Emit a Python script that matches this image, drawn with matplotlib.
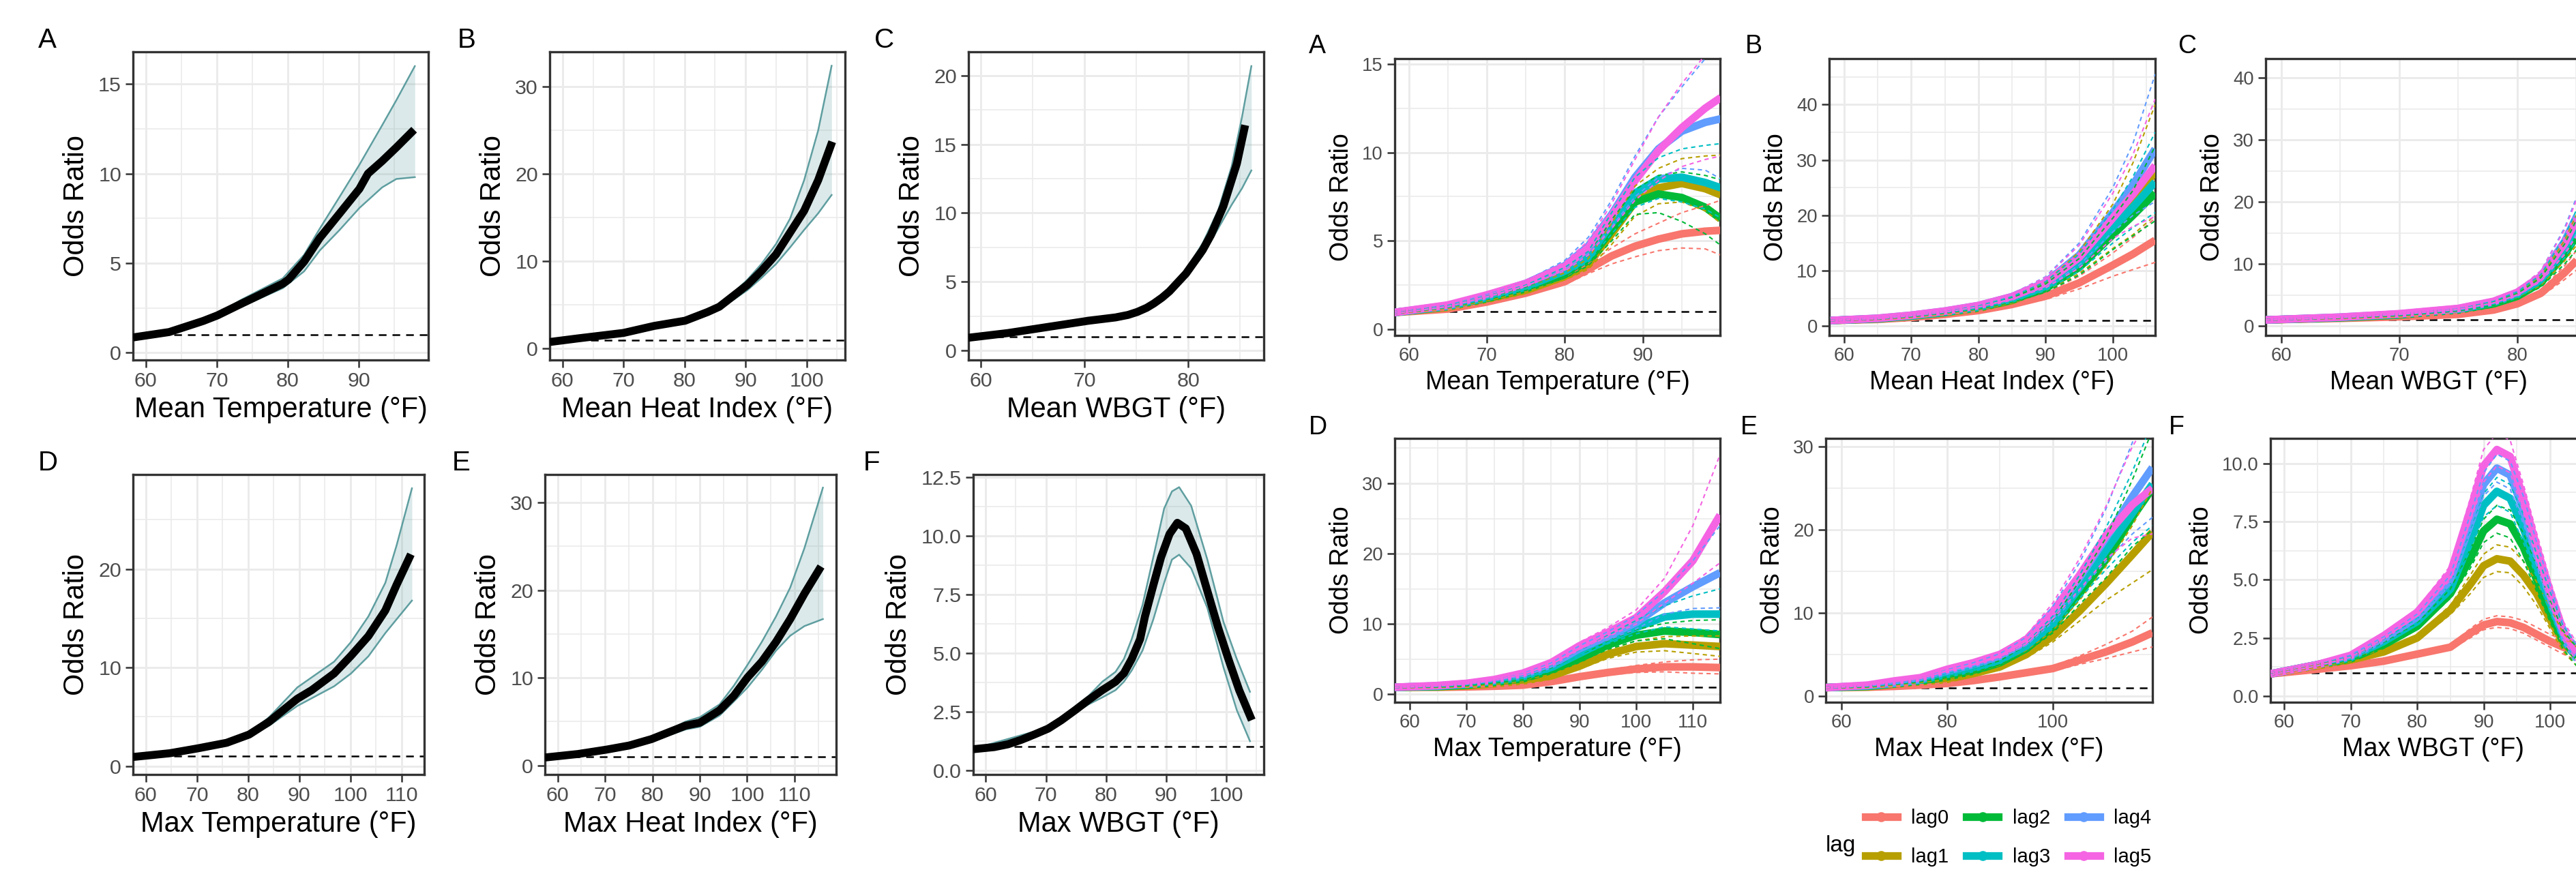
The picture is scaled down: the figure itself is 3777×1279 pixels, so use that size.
import numpy as np
import matplotlib
matplotlib.use("Agg")
import matplotlib.pyplot as plt
from matplotlib.lines import Line2D

plt.rcParams["font.family"] = ["Liberation Sans", "DejaVu Sans"]

W, H, DPI = 3777, 1279, 300
RIBBON = "#5F9EA0"
LAGS = ["lag0", "lag1", "lag2", "lag3", "lag4", "lag5"]
LAG_COLORS = ["#F8766D", "#B79F00", "#00BA38", "#00BFC4", "#619CFF", "#F564E3"]

# ---- left block: pooled odds ratio with 95% CI -------------------------------
la_x = [58.2, 63.3, 68.1, 70.1, 73.3, 75.3, 79.3, 80.1, 82.3, 84.5, 87.3, 90.1, 91.3, 93.3, 95.3, 97.8]
la_or = [0.85, 1.15, 1.77, 2.08, 2.7, 3.08, 3.85, 4.08, 5.08, 6.4, 7.77, 9.15, 10.0, 10.7, 11.46, 12.45]
la_cx = [58.2, 63.3, 68.1, 70.1, 73.3, 79.3, 82.3, 84.5, 87.3, 90.1, 93.3, 95.3, 97.9]
la_lo = [0.8, 1.1, 1.72, 2.0, 2.54, 3.6, 4.54, 5.7, 6.85, 8.08, 9.23, 9.7, 9.8]
la_hi = [0.9, 1.2, 1.82, 2.15, 2.92, 4.15, 5.46, 6.92, 8.7, 10.5, 12.7, 14.1, 16.0]

lb_x = [57.9, 62.5, 70.0, 75.0, 80.1, 83.8, 85.7, 88.0, 90.3, 92.6, 95.0, 97.3, 99.6, 101.9, 104.2]
lb_or = [0.76, 1.17, 1.8, 2.6, 3.2, 4.2, 4.8, 6.05, 7.3, 8.9, 10.8, 13.3, 15.8, 19.3, 23.7]
lb_cx = [57.9, 70.0, 80.1, 85.7, 88.0, 90.3, 92.6, 95.0, 97.3, 99.6, 101.9, 104.1]
lb_lo = [0.72, 1.75, 3.1, 4.6, 5.6, 6.7, 8.1, 9.7, 11.6, 13.6, 15.5, 17.6]
lb_hi = [0.8, 1.85, 3.3, 5.0, 6.4, 7.9, 9.7, 12.0, 14.9, 19.3, 25.0, 32.4]

lc_x = [58.8, 62.6, 65.2, 67.8, 70.4, 73.0, 74.2, 75.1, 76.0, 76.7, 77.5, 78.2, 79.8, 81.4, 82.2, 83.4, 84.7, 85.5]
lc_or = [0.92, 1.26, 1.56, 1.86, 2.16, 2.4, 2.58, 2.8, 3.1, 3.42, 3.85, 4.3, 5.6, 7.3, 8.4, 10.5, 13.6, 16.4]
lc_cx = [58.8, 70.4, 75.1, 76.7, 78.2, 79.8, 81.4, 82.9, 84.2, 85.2, 86.1]
lc_lo = [0.88, 2.1, 2.72, 3.3, 4.15, 5.3, 6.9, 8.88, 10.6, 11.8, 13.1]
lc_hi = [0.96, 2.22, 2.9, 3.55, 4.5, 5.85, 7.8, 10.2, 13.4, 17.0, 20.7]

ld_x = [57.5, 64.7, 70.2, 75.8, 80.2, 84.1, 86.9, 89.6, 92.4, 96.8, 100.1, 103.5, 106.8, 109.0, 111.8]
ld_or = [0.92, 1.3, 1.8, 2.36, 3.2, 4.5, 5.7, 6.83, 7.7, 9.4, 11.2, 13.2, 15.8, 18.4, 21.5]
ld_cx = [57.5, 75.8, 80.2, 84.1, 89.6, 96.8, 100.1, 103.5, 106.8, 109.0, 112.0]
ld_lo = [0.88, 2.3, 3.05, 4.1, 6.1, 8.1, 9.4, 11.15, 13.5, 14.9, 16.8]
ld_hi = [0.96, 2.42, 3.35, 4.96, 7.98, 10.6, 12.6, 15.2, 18.6, 22.4, 28.2]

le_x = [57.3, 64.3, 70.3, 75.1, 79.8, 84.0, 87.0, 90.0, 92.4, 94.2, 97.2, 100.1, 103.1, 106.1, 109.1, 112.1, 115.6]
le_or = [0.9, 1.3, 1.8, 2.27, 3.0, 3.9, 4.54, 4.87, 5.68, 6.3, 7.95, 10.05, 11.84, 14.1, 16.7, 19.6, 22.7]
le_cx = [57.3, 75.1, 82.2, 87.0, 90.0, 94.2, 97.2, 100.1, 103.1, 106.1, 109.1, 112.1, 116.0]
le_lo = [0.86, 2.2, 3.2, 4.1, 4.4, 5.7, 7.3, 8.9, 10.9, 13.1, 14.8, 15.9, 16.7]
le_hi = [0.94, 2.34, 3.7, 5.0, 5.5, 6.97, 9.1, 11.5, 14.1, 17.0, 20.3, 24.8, 31.7]

lf_x = [57.9, 61.4, 63.7, 65.9, 68.2, 70.4, 72.6, 74.9, 77.1, 79.4, 81.6, 83.0, 84.3, 85.7, 86.5,
        87.9, 89.2, 90.6, 91.9, 93.3, 95.1, 96.9, 98.7, 100.4, 102.2, 104.3]
lf_or = [0.9, 0.99, 1.11, 1.3, 1.54, 1.78, 2.14, 2.57, 3.0, 3.42, 3.78, 4.14, 4.75, 5.6, 6.56,
         7.9, 9.1, 10.08, 10.56, 10.32, 9.23, 7.65, 6.08, 4.75, 3.42, 2.14]
lf_cx = [57.9, 70.4, 77.1, 79.4, 81.6, 83.0, 84.3, 86.1, 87.9, 89.7, 91.0, 92.2, 94.2, 96.9, 99.6, 101.8, 104.0]
lf_lo = [0.88, 1.74, 2.81, 3.11, 3.42, 3.78, 4.26, 5.11, 6.44, 8.0, 8.99, 9.2, 8.62, 6.93, 4.38, 2.57, 1.24]
lf_hi = [0.92, 1.82, 3.17, 3.78, 4.2, 4.75, 5.6, 7.05, 9.1, 11.17, 11.9, 12.08, 11.29, 8.99, 6.32, 4.75, 3.35]

# ---- right block: odds ratio by lag (rows = lag0..lag5) ---------------------
ra_x = [58, 65, 70, 75, 80, 83, 86, 89, 92, 95, 98, 100]
ra_or = [[0.95, 1.15, 1.55, 2.05, 2.7, 3.4, 4.15, 4.7, 5.1, 5.4, 5.55, 5.6],
         [0.95, 1.25, 1.7, 2.2, 3.0, 3.7, 5.4, 7.2, 8.0, 8.25, 7.95, 7.6],
         [0.95, 1.3, 1.75, 2.3, 3.1, 3.9, 5.6, 7.2, 7.65, 7.45, 6.9, 6.25],
         [0.95, 1.3, 1.8, 2.4, 3.3, 4.1, 6.0, 7.7, 8.5, 8.6, 8.3, 8.0],
         [0.95, 1.35, 1.9, 2.6, 3.6, 4.7, 6.5, 8.6, 10.2, 11.2, 11.7, 11.9],
         [0.95, 1.38, 1.95, 2.6, 3.55, 4.6, 6.4, 8.4, 10.1, 11.4, 12.5, 13.1]]
ra_lo = [[0.9, 1.1, 1.48, 1.95, 2.55, 3.15, 3.7, 4.1, 4.45, 4.6, 4.55, 4.2],
         [0.9, 1.2, 1.62, 2.1, 2.8, 3.4, 4.8, 6.4, 7.1, 7.2, 6.7, 6.0],
         [0.9, 1.25, 1.68, 2.2, 2.9, 3.6, 5.0, 6.5, 6.6, 6.1, 5.4, 4.75],
         [0.9, 1.25, 1.72, 2.3, 3.1, 3.8, 5.4, 6.9, 7.4, 7.2, 6.8, 6.3],
         [0.9, 1.28, 1.8, 2.45, 3.35, 4.3, 5.8, 7.5, 8.6, 9.1, 9.0, 8.5],
         [0.9, 1.3, 1.85, 2.45, 3.3, 4.2, 5.7, 7.3, 8.4, 9.2, 9.6, 9.8]]
ra_hi = [[1.0, 1.2, 1.62, 2.15, 2.9, 3.7, 4.6, 5.4, 6.0, 6.6, 7.0, 7.3],
         [1.0, 1.3, 1.78, 2.3, 3.2, 4.0, 6.0, 8.1, 9.1, 9.65, 9.8, 9.85],
         [1.0, 1.35, 1.82, 2.4, 3.3, 4.2, 6.2, 7.9, 8.7, 8.9, 8.7, 8.45],
         [1.0, 1.35, 1.88, 2.5, 3.5, 4.4, 6.6, 8.6, 9.7, 10.2, 10.4, 10.5],
         [1.0, 1.42, 2.0, 2.75, 3.9, 5.2, 7.3, 9.8, 12.0, 13.7, 15.3, 16.3],
         [1.0, 1.45, 2.05, 2.75, 3.8, 5.0, 7.1, 9.6, 12.0, 13.9, 15.5, 16.5]]

rb_x = [58, 65, 70, 75, 80, 85, 90, 95, 100, 103, 106.3]
rb_or = [[1.0, 1.2, 1.55, 2.1, 2.8, 3.9, 5.4, 7.8, 11.0, 13.0, 15.5],
         [1.0, 1.3, 1.8, 2.4, 3.2, 4.6, 7.0, 11.3, 17.5, 22.0, 28.0],
         [1.0, 1.3, 1.8, 2.45, 3.3, 4.7, 6.8, 10.6, 16.5, 20.0, 24.0],
         [1.0, 1.35, 1.85, 2.5, 3.4, 4.9, 7.2, 11.4, 17.8, 21.5, 26.0],
         [1.0, 1.4, 1.95, 2.7, 3.7, 5.3, 7.9, 12.8, 20.5, 25.5, 32.0],
         [1.0, 1.4, 1.95, 2.7, 3.7, 5.3, 7.8, 12.4, 19.5, 23.8, 29.0]]
rb_lo = [[0.95, 1.15, 1.48, 2.0, 2.65, 3.6, 4.8, 6.7, 9.0, 10.2, 11.5],
         [0.95, 1.25, 1.7, 2.3, 3.0, 4.2, 6.2, 9.5, 14.0, 16.5, 20.0],
         [0.95, 1.25, 1.7, 2.35, 3.1, 4.3, 6.1, 9.2, 13.8, 16.3, 19.0],
         [0.95, 1.3, 1.75, 2.4, 3.2, 4.5, 6.4, 9.9, 15.0, 17.8, 20.5],
         [0.95, 1.32, 1.85, 2.55, 3.45, 4.9, 7.0, 11.0, 17.0, 20.0, 22.5],
         [0.95, 1.32, 1.85, 2.55, 3.45, 4.9, 6.9, 10.5, 15.8, 18.0, 19.8]]
rb_hi = [[1.05, 1.25, 1.62, 2.2, 2.95, 4.2, 6.0, 9.0, 13.2, 16.0, 19.5],
         [1.05, 1.35, 1.9, 2.5, 3.4, 5.0, 7.9, 13.4, 22.0, 29.5, 40.0],
         [1.05, 1.35, 1.9, 2.55, 3.5, 5.1, 7.6, 12.2, 19.5, 24.5, 32.5],
         [1.05, 1.4, 1.95, 2.6, 3.6, 5.3, 8.0, 13.0, 21.0, 27.0, 35.0],
         [1.05, 1.48, 2.05, 2.85, 3.95, 5.8, 8.9, 15.0, 25.0, 33.0, 45.5],
         [1.05, 1.48, 2.05, 2.85, 3.95, 5.8, 8.8, 14.6, 24.0, 31.0, 41.0]]

rc_x = [58.7, 65, 70, 75, 78, 80, 82, 84, 86]
rc_or = [[1.0, 1.25, 1.5, 1.9, 2.6, 3.6, 5.3, 8.6, 12.5],
         [1.0, 1.35, 1.8, 2.6, 3.6, 4.9, 7.2, 12.0, 18.5],
         [1.0, 1.35, 1.8, 2.6, 3.6, 4.8, 7.0, 11.5, 17.5],
         [1.0, 1.4, 1.9, 2.7, 3.8, 5.1, 7.5, 12.6, 19.5],
         [1.0, 1.45, 1.95, 2.8, 3.95, 5.4, 8.0, 13.6, 21.5],
         [1.0, 1.45, 2.0, 2.85, 4.0, 5.45, 8.0, 13.3, 21.0]]
rc_lo = [[0.95, 1.2, 1.42, 1.8, 2.4, 3.3, 4.8, 7.5, 10.5],
         [0.95, 1.3, 1.7, 2.45, 3.35, 4.5, 6.5, 10.5, 15.5],
         [0.95, 1.3, 1.7, 2.45, 3.35, 4.4, 6.3, 10.0, 14.5],
         [0.95, 1.35, 1.8, 2.55, 3.55, 4.7, 6.8, 11.0, 16.5],
         [0.95, 1.38, 1.85, 2.65, 3.7, 5.0, 7.2, 11.8, 18.0],
         [0.95, 1.38, 1.9, 2.7, 3.75, 5.05, 7.2, 11.5, 17.5]]
rc_hi = [[1.05, 1.3, 1.58, 2.0, 2.8, 3.9, 5.8, 9.7, 14.6],
         [1.05, 1.4, 1.9, 2.75, 3.85, 5.3, 8.0, 13.8, 22.0],
         [1.05, 1.4, 1.9, 2.75, 3.85, 5.2, 7.8, 13.2, 21.0],
         [1.05, 1.45, 2.0, 2.85, 4.05, 5.5, 8.3, 14.4, 23.0],
         [1.05, 1.52, 2.05, 2.95, 4.2, 5.8, 8.9, 15.8, 25.5],
         [1.05, 1.52, 2.1, 3.0, 4.25, 5.85, 8.9, 15.5, 25.0]]

rd_x = [57.4, 65, 70, 75, 80, 85, 90, 95, 100, 105, 110, 114.8]
rd_or = [[1.0, 1.0, 1.05, 1.15, 1.3, 1.8, 2.5, 3.1, 3.6, 3.9, 3.9, 3.8],
         [1.0, 1.05, 1.2, 1.5, 1.9, 2.6, 4.0, 5.7, 6.8, 7.2, 7.0, 6.8],
         [1.0, 1.1, 1.3, 1.7, 2.2, 3.4, 5.0, 7.0, 8.4, 9.0, 8.8, 8.5],
         [1.0, 1.15, 1.4, 1.85, 2.5, 3.8, 5.8, 7.8, 9.5, 11.0, 11.4, 11.4],
         [1.0, 1.2, 1.5, 2.0, 2.8, 4.2, 6.5, 8.3, 10.2, 13.0, 15.3, 17.3],
         [1.0, 1.25, 1.55, 2.1, 3.0, 4.5, 6.9, 8.8, 10.9, 14.6, 19.0, 25.5]]
rd_lo = [[0.95, 0.95, 1.0, 1.08, 1.2, 1.65, 2.25, 2.75, 3.1, 3.2, 3.0, 2.9],
         [0.95, 1.0, 1.13, 1.4, 1.75, 2.4, 3.6, 5.1, 6.0, 6.2, 5.8, 5.4],
         [0.95, 1.05, 1.23, 1.6, 2.05, 3.15, 4.6, 6.4, 7.6, 7.9, 7.2, 6.5],
         [0.95, 1.1, 1.33, 1.75, 2.35, 3.55, 5.4, 7.2, 8.6, 9.6, 9.3, 9.0],
         [0.95, 1.15, 1.42, 1.9, 2.65, 3.95, 6.1, 7.7, 9.3, 11.4, 12.2, 12.3],
         [0.95, 1.2, 1.47, 2.0, 2.85, 4.25, 6.4, 8.2, 10.0, 13.0, 15.8, 18.7]]
rd_hi = [[1.05, 1.05, 1.1, 1.22, 1.4, 1.95, 2.75, 3.45, 4.1, 4.6, 4.9, 5.0],
         [1.05, 1.1, 1.27, 1.6, 2.05, 2.8, 4.4, 6.3, 7.6, 8.2, 8.3, 8.3],
         [1.05, 1.15, 1.37, 1.8, 2.35, 3.65, 5.4, 7.6, 9.2, 10.1, 10.5, 10.6],
         [1.05, 1.2, 1.47, 1.95, 2.65, 4.05, 6.2, 8.4, 10.5, 12.6, 14.0, 15.0],
         [1.05, 1.25, 1.58, 2.1, 2.95, 4.45, 6.9, 8.9, 11.2, 14.7, 19.0, 24.0],
         [1.05, 1.3, 1.63, 2.2, 3.15, 4.75, 7.4, 9.5, 12.0, 16.5, 24.0, 34.1]]

re_x = [57.1, 65, 70, 75, 80, 85, 90, 95, 100, 105, 110, 115, 118.8]
re_or = [[1.0, 1.05, 1.15, 1.3, 1.5, 1.85, 2.3, 2.8, 3.3, 4.3, 5.3, 6.5, 7.6],
         [1.0, 1.1, 1.4, 1.7, 2.0, 2.7, 3.5, 5.0, 7.2, 10.2, 13.5, 17.0, 19.7],
         [1.0, 1.15, 1.45, 1.8, 2.3, 3.0, 4.0, 5.7, 8.3, 12.3, 16.4, 21.5, 25.0],
         [1.0, 1.2, 1.5, 1.9, 2.6, 3.3, 4.3, 6.0, 8.8, 13.0, 17.5, 22.0, 25.5],
         [1.0, 1.25, 1.55, 2.0, 3.0, 3.8, 4.8, 6.6, 9.8, 14.2, 19.0, 24.0, 27.5],
         [1.0, 1.3, 1.8, 2.2, 3.2, 4.0, 5.0, 6.8, 10.2, 14.5, 19.3, 23.0, 25.0]]
re_lo = [[0.95, 1.0, 1.1, 1.24, 1.42, 1.75, 2.15, 2.6, 3.0, 3.8, 4.5, 5.3, 5.9],
         [0.95, 1.05, 1.33, 1.62, 1.9, 2.55, 3.3, 4.6, 6.5, 9.0, 11.5, 13.6, 15.2],
         [0.95, 1.1, 1.38, 1.72, 2.2, 2.85, 3.75, 5.3, 7.6, 11.0, 14.2, 18.0, 20.0],
         [0.95, 1.15, 1.43, 1.82, 2.48, 3.15, 4.05, 5.6, 8.1, 11.7, 15.2, 18.5, 20.5],
         [0.95, 1.2, 1.48, 1.9, 2.85, 3.6, 4.5, 6.1, 8.9, 12.6, 16.2, 19.5, 21.5],
         [0.95, 1.25, 1.72, 2.1, 3.05, 3.8, 4.7, 6.3, 9.3, 12.8, 16.5, 19.0, 19.5]]
re_hi = [[1.05, 1.1, 1.2, 1.36, 1.58, 1.95, 2.45, 3.0, 3.6, 4.8, 6.2, 7.8, 9.5],
         [1.05, 1.15, 1.47, 1.78, 2.1, 2.85, 3.7, 5.4, 7.9, 11.5, 15.6, 20.5, 25.0],
         [1.05, 1.2, 1.52, 1.88, 2.4, 3.15, 4.25, 6.1, 9.1, 13.8, 19.0, 26.0, 32.0],
         [1.05, 1.25, 1.57, 1.98, 2.72, 3.45, 4.55, 6.4, 9.6, 14.5, 20.2, 27.0, 33.0],
         [1.05, 1.3, 1.62, 2.1, 3.15, 4.0, 5.1, 7.1, 10.8, 16.0, 22.5, 30.5, 36.0],
         [1.05, 1.35, 1.88, 2.3, 3.35, 4.2, 5.3, 7.3, 11.2, 16.5, 22.8, 30.0, 34.0]]

rf_x = [57.9, 65, 70, 75, 80, 85, 88, 90, 92, 94, 96, 98, 100, 102, 104, 106]
rf_or = [[0.95, 1.15, 1.3, 1.5, 1.8, 2.1, 2.7, 3.05, 3.2, 3.15, 2.95, 2.65, 2.35, 2.1, 1.9, 1.7],
         [0.95, 1.3, 1.55, 1.9, 2.5, 3.7, 4.8, 5.6, 5.9, 5.8, 5.2, 4.4, 3.3, 2.3, 1.7, 1.3],
         [0.95, 1.35, 1.6, 2.2, 3.0, 4.4, 5.9, 7.1, 7.6, 7.4, 6.4, 5.0, 3.6, 2.4, 1.7, 1.3],
         [0.95, 1.35, 1.65, 2.35, 3.2, 4.6, 6.7, 8.2, 8.8, 8.5, 7.2, 5.6, 4.0, 2.6, 1.8, 1.3],
         [0.95, 1.35, 1.7, 2.45, 3.4, 5.0, 7.4, 9.1, 9.8, 9.5, 8.0, 6.1, 4.3, 2.7, 1.8, 1.3],
         [0.95, 1.35, 1.75, 2.6, 3.6, 5.3, 8.0, 9.9, 10.6, 10.3, 8.5, 6.4, 4.5, 2.8, 1.9, 1.4]]
rf_lo = [[0.9, 1.1, 1.25, 1.44, 1.72, 2.0, 2.5, 2.85, 2.95, 2.9, 2.7, 2.4, 2.1, 1.8, 1.55, 1.3],
         [0.9, 1.25, 1.48, 1.8, 2.38, 3.5, 4.4, 5.1, 5.35, 5.3, 4.7, 3.9, 2.9, 1.9, 1.3, 1.0],
         [0.9, 1.3, 1.53, 2.1, 2.88, 4.2, 5.5, 6.6, 7.0, 6.8, 5.8, 4.5, 3.2, 2.0, 1.3, 1.0],
         [0.9, 1.3, 1.58, 2.25, 3.08, 4.4, 6.3, 7.7, 8.2, 7.9, 6.6, 5.1, 3.6, 2.2, 1.4, 1.0],
         [0.9, 1.3, 1.63, 2.35, 3.28, 4.8, 7.0, 8.6, 9.2, 8.9, 7.4, 5.6, 3.8, 2.3, 1.4, 1.0],
         [0.9, 1.3, 1.68, 2.48, 3.45, 5.0, 7.5, 9.2, 9.9, 9.6, 7.9, 5.8, 4.0, 2.4, 1.5, 1.1]]
rf_hi = [[1.0, 1.2, 1.35, 1.56, 1.88, 2.2, 2.9, 3.3, 3.45, 3.4, 3.25, 2.95, 2.65, 2.4, 2.25, 2.1],
         [1.0, 1.35, 1.62, 2.0, 2.62, 3.9, 5.2, 6.1, 6.5, 6.4, 5.8, 4.9, 3.8, 2.7, 2.1, 1.7],
         [1.0, 1.4, 1.67, 2.3, 3.12, 4.6, 6.3, 7.6, 8.2, 8.0, 7.0, 5.6, 4.1, 2.8, 2.1, 1.7],
         [1.0, 1.4, 1.72, 2.45, 3.32, 4.8, 7.1, 8.7, 9.4, 9.1, 7.8, 6.1, 4.5, 3.0, 2.2, 1.7],
         [1.0, 1.4, 1.77, 2.55, 3.52, 5.2, 7.8, 9.6, 10.4, 10.1, 8.6, 6.6, 4.8, 3.1, 2.2, 1.7],
         [1.0, 1.4, 1.82, 2.72, 3.75, 5.6, 8.5, 10.6, 11.3, 11.0, 9.1, 7.0, 5.0, 3.2, 2.3, 1.8]]

XLABELS = ["Mean Temperature (°F)", "Mean Heat Index (°F)", "Mean WBGT (°F)",
           "Max Temperature (°F)", "Max Heat Index (°F)", "Max WBGT (°F)"]
PANEL_TAGS = ["A", "B", "C", "D", "E", "F"]

fig = plt.figure(figsize=(W / DPI, H / DPI), dpi=DPI)


def px_axes(x0, x1, y0, y1):
    return fig.add_axes([x0 / W, 1 - y1 / H, (x1 - x0) / W, (y1 - y0) / H])


def minors(ticks, lim):
    step = ticks[1] - ticks[0]
    cand = [t - step / 2 for t in ticks] + [ticks[-1] + step / 2]
    return [c for c in cand if lim[0] <= c <= lim[1]]


def style(ax, xlim, ylim, xt, yt, xlabel, fs_lab, fs_tick, yfmt="{:g}"):
    ax.set_xlim(xlim)
    ax.set_ylim(ylim)
    ax.set_xticks(xt)
    ax.set_yticks(yt)
    ax.set_yticklabels([yfmt.format(v) for v in yt])
    ax.set_xticks(minors(xt, xlim), minor=True)
    ax.set_yticks(minors(yt, ylim), minor=True)
    ax.grid(which="major", color="#EBEBEB", lw=0.7)
    ax.grid(which="minor", color="#EBEBEB", lw=0.4)
    ax.set_axisbelow(True)
    for s in ax.spines.values():
        s.set_color("#333333")
        s.set_linewidth(0.8)
    ax.tick_params(which="major", length=2.6, width=0.6, color="#333333",
                   labelcolor="#4D4D4D", labelsize=fs_tick, pad=1.5)
    ax.tick_params(which="minor", length=0)
    ax.set_xlabel(xlabel, fontsize=fs_lab, labelpad=2)
    ax.set_ylabel("Odds Ratio", fontsize=fs_lab, labelpad=3)
    ax.axhline(1, color="black", lw=0.6, dashes=(4.5, 3.5), zorder=1.5)


# left block -------------------------------------------------------------------
left = [
    (la_x, la_or, la_cx, la_lo, la_hi, (58.2, 99.8), (-0.41, 16.8), [60, 70, 80, 90], [0, 5, 10, 15], "{:g}"),
    (lb_x, lb_or, lb_cx, lb_lo, lb_hi, (57.9, 106.3), (-1.3, 34.0), [60, 70, 80, 90, 100], [0, 10, 20, 30], "{:g}"),
    (lc_x, lc_or, lc_cx, lc_lo, lc_hi, (58.8, 87.3), (-0.7, 21.74), [60, 70, 80], [0, 5, 10, 15, 20], "{:g}"),
    (ld_x, ld_or, ld_cx, ld_lo, ld_hi, (57.5, 114.4), (-0.86, 29.6), [60, 70, 80, 90, 100, 110], [0, 10, 20], "{:g}"),
    (le_x, le_or, le_cx, le_lo, le_hi, (57.3, 118.8), (-1.04, 33.2), [60, 70, 80, 90, 100, 110], [0, 10, 20, 30], "{:g}"),
    (lf_x, lf_or, lf_cx, lf_lo, lf_hi, (57.9, 106.3), (-0.18, 12.62), [60, 70, 80, 90, 100],
     [0, 2.5, 5, 7.5, 10, 12.5], "{:.1f}"),
]
left_boxes = [(195, 628, 76, 528), (806, 1239, 76, 528), (1420, 1853, 76, 528),
              (195, 622, 696, 1136), (799, 1226, 696, 1136), (1427, 1853, 696, 1136)]
left_tags = [(56, 70), (671, 70), (1282, 70), (56, 690), (663, 690), (1266, 690)]

for i, (x, y, cx, lo, hi, xl, yl, xt, yt, fmt) in enumerate(left):
    ax = px_axes(*left_boxes[i])
    style(ax, xl, yl, xt, yt, XLABELS[i], 10.0, 7.3, fmt)
    ax.fill_between(cx, lo, hi, color=RIBBON, alpha=0.22, lw=0, zorder=2)
    ax.plot(cx, lo, color=RIBBON, lw=0.6, zorder=2.2)
    ax.plot(cx, hi, color=RIBBON, lw=0.6, zorder=2.2)
    ax.plot(x, y, color="black", lw=2.8, zorder=3, solid_capstyle="butt")
    fig.text(left_tags[i][0] / W, 1 - left_tags[i][1] / H, PANEL_TAGS[i],
             fontsize=9.7, ha="left", va="baseline")

# right block ------------------------------------------------------------------
right = [
    (ra_x, ra_or, ra_lo, ra_hi, (58.2, 99.9), (-0.34, 15.3), [60, 70, 80, 90], [0, 5, 10, 15], "{:g}"),
    (rb_x, rb_or, rb_lo, rb_hi, (57.8, 106.3), (-1.7, 48.3), [60, 70, 80, 90, 100], [0, 10, 20, 30, 40], "{:g}"),
    (rc_x, rc_or, rc_lo, rc_hi, (58.7, 86.3), (-1.5, 43.1), [60, 70, 80], [0, 10, 20, 30, 40], "{:g}"),
    (rd_x, rd_or, rd_lo, rd_hi, (57.4, 114.8), (-1.13, 36.4), [60, 70, 80, 90, 100, 110], [0, 10, 20, 30], "{:g}"),
    (re_x, re_or, re_lo, re_hi, (57.1, 118.8), (-0.76, 31.0), [60, 80, 100], [0, 10, 20, 30], "{:g}"),
    (rf_x, rf_or, rf_lo, rf_hi, (57.9, 107.0), (-0.27, 11.08), [60, 70, 80, 90, 100],
     [0, 2.5, 5, 7.5, 10], "{:.1f}"),
]
right_boxes = [(2045, 2522, 86, 492), (2682, 3160, 86, 492), (3322, 3800, 86, 492),
               (2045, 2522, 643, 1030), (2677, 3156, 643, 1030), (3329, 3807, 643, 1030)]
right_tags = [(1919, 78), (2559, 78), (3193, 78), (1919, 637), (2552, 637), (3180, 637)]

for i, (x, ors, los, his, xl, yl, xt, yt, fmt) in enumerate(right):
    ax = px_axes(*right_boxes[i])
    style(ax, xl, yl, xt, yt, XLABELS[i], 9.0, 6.6, fmt)
    for k in range(6):
        ax.plot(x, ors[k], color=LAG_COLORS[k], lw=2.7, zorder=3,
                solid_capstyle="butt")
    for k in range(6):
        ax.plot(x, los[k], color=LAG_COLORS[k], lw=0.5, dashes=(3, 2.5), zorder=3.5)
        ax.plot(x, his[k], color=LAG_COLORS[k], lw=0.5, dashes=(3, 2.5), zorder=3.5)
    fig.text(right_tags[i][0] / W, 1 - right_tags[i][1] / H, PANEL_TAGS[i],
             fontsize=9.0, ha="left", va="baseline")

handles = [Line2D([], [], color=c, lw=2.7, marker="o", ms=2.5) for c in LAG_COLORS]
fig.legend(handles, LAGS, ncol=3, loc="upper left",
           bbox_to_anchor=(2735 / W, 1 - 1186 / H), frameon=False, fontsize=7,
           handlelength=1.6, handletextpad=0.7, columnspacing=0.9,
           labelspacing=1.0, borderpad=0, borderaxespad=0)
fig.text(2677 / W, 1 - 1240 / H, "lag", fontsize=8, ha="left", va="center")

fig.savefig("out.png", dpi=DPI)
